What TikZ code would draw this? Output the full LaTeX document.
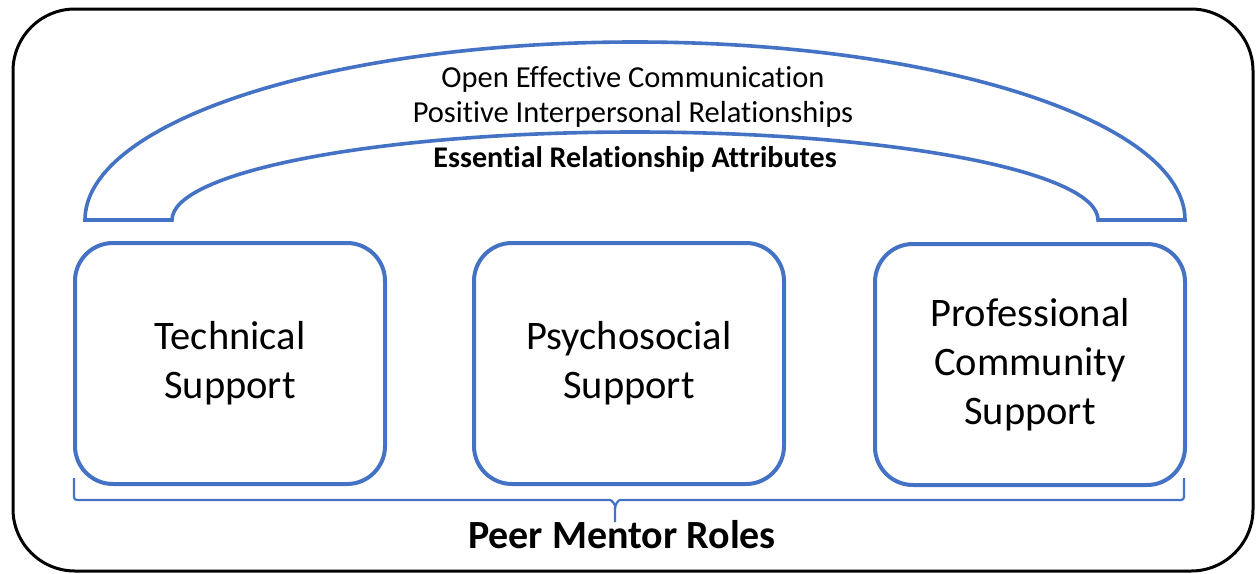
\documentclass[tikz,border=0pt]{standalone}
\usepackage{fontspec}
\setmainfont[Ligatures={NoCommon}]{Carlito}
\definecolor{roleblue}{HTML}{4472C4}
\begin{document}
\begin{tikzpicture}[x=1pt,y=-1pt,
  rolebox/.style={draw=roleblue, line width=4pt, rounded corners=38pt,
    minimum width=310pt, minimum height=241pt, align=center,
    font=\fontsize{40.5}{49}\selectfont, inner sep=0pt},
  attrtext/.style={font=\fontsize{30.5}{36}\selectfont, inner sep=0pt},
  bracket/.style={draw=roleblue, line width=2.2pt, rounded corners=3pt}]
  \useasboundingbox (0,0) rectangle (1257,573);
  % outer frame
  \draw[line width=3pt, rounded corners=62pt] (13,9) rectangle (1253,571);
  % block arc over the roles
  \draw[roleblue, line width=3.6pt, line join=miter]
    (85,220) arc[start angle=180, end angle=0, x radius=550pt, y radius=178pt]
    -- (1098,220) arc[start angle=0, end angle=180, x radius=463pt, y radius=88pt]
    -- cycle;
  \node[attrtext, anchor=base] (open) at (633,87) {Open Effective Communication};
  \node[attrtext, anchor=base] (posit) at (633,122) {Positive Interpersonal Relationships};
  \node[attrtext, anchor=base, font=\fontsize{30}{36}\selectfont\bfseries] (ess) at (635,167) {Essential Relationship Attributes};
  % role boxes
  \node[rolebox] (tech) at (230,363.5) {Technical\\Support};
  \node[rolebox] (psycho) at (629,363.5) {Psychosocial\\Support};
  \node[rolebox] (prof) at (1030,364.5) {Professional\\Community\\Support};
  % bracket under the boxes
  \coordinate (bl) at (74,478);
  \coordinate (br) at (1184,478);
  \coordinate (tip) at (615,522);
  \draw[bracket] (bl) |- (607,500) to[out=0,in=90] (tip |- 0,509) -- (tip);
  \draw[bracket] (br) |- (623,500) to[out=180,in=90] (tip |- 0,509);
  \node[font=\fontsize{40}{48}\selectfont\bfseries, anchor=base, inner sep=0pt] (roles) at (622,548) {Peer Mentor Roles};
\end{tikzpicture}
\end{document}
